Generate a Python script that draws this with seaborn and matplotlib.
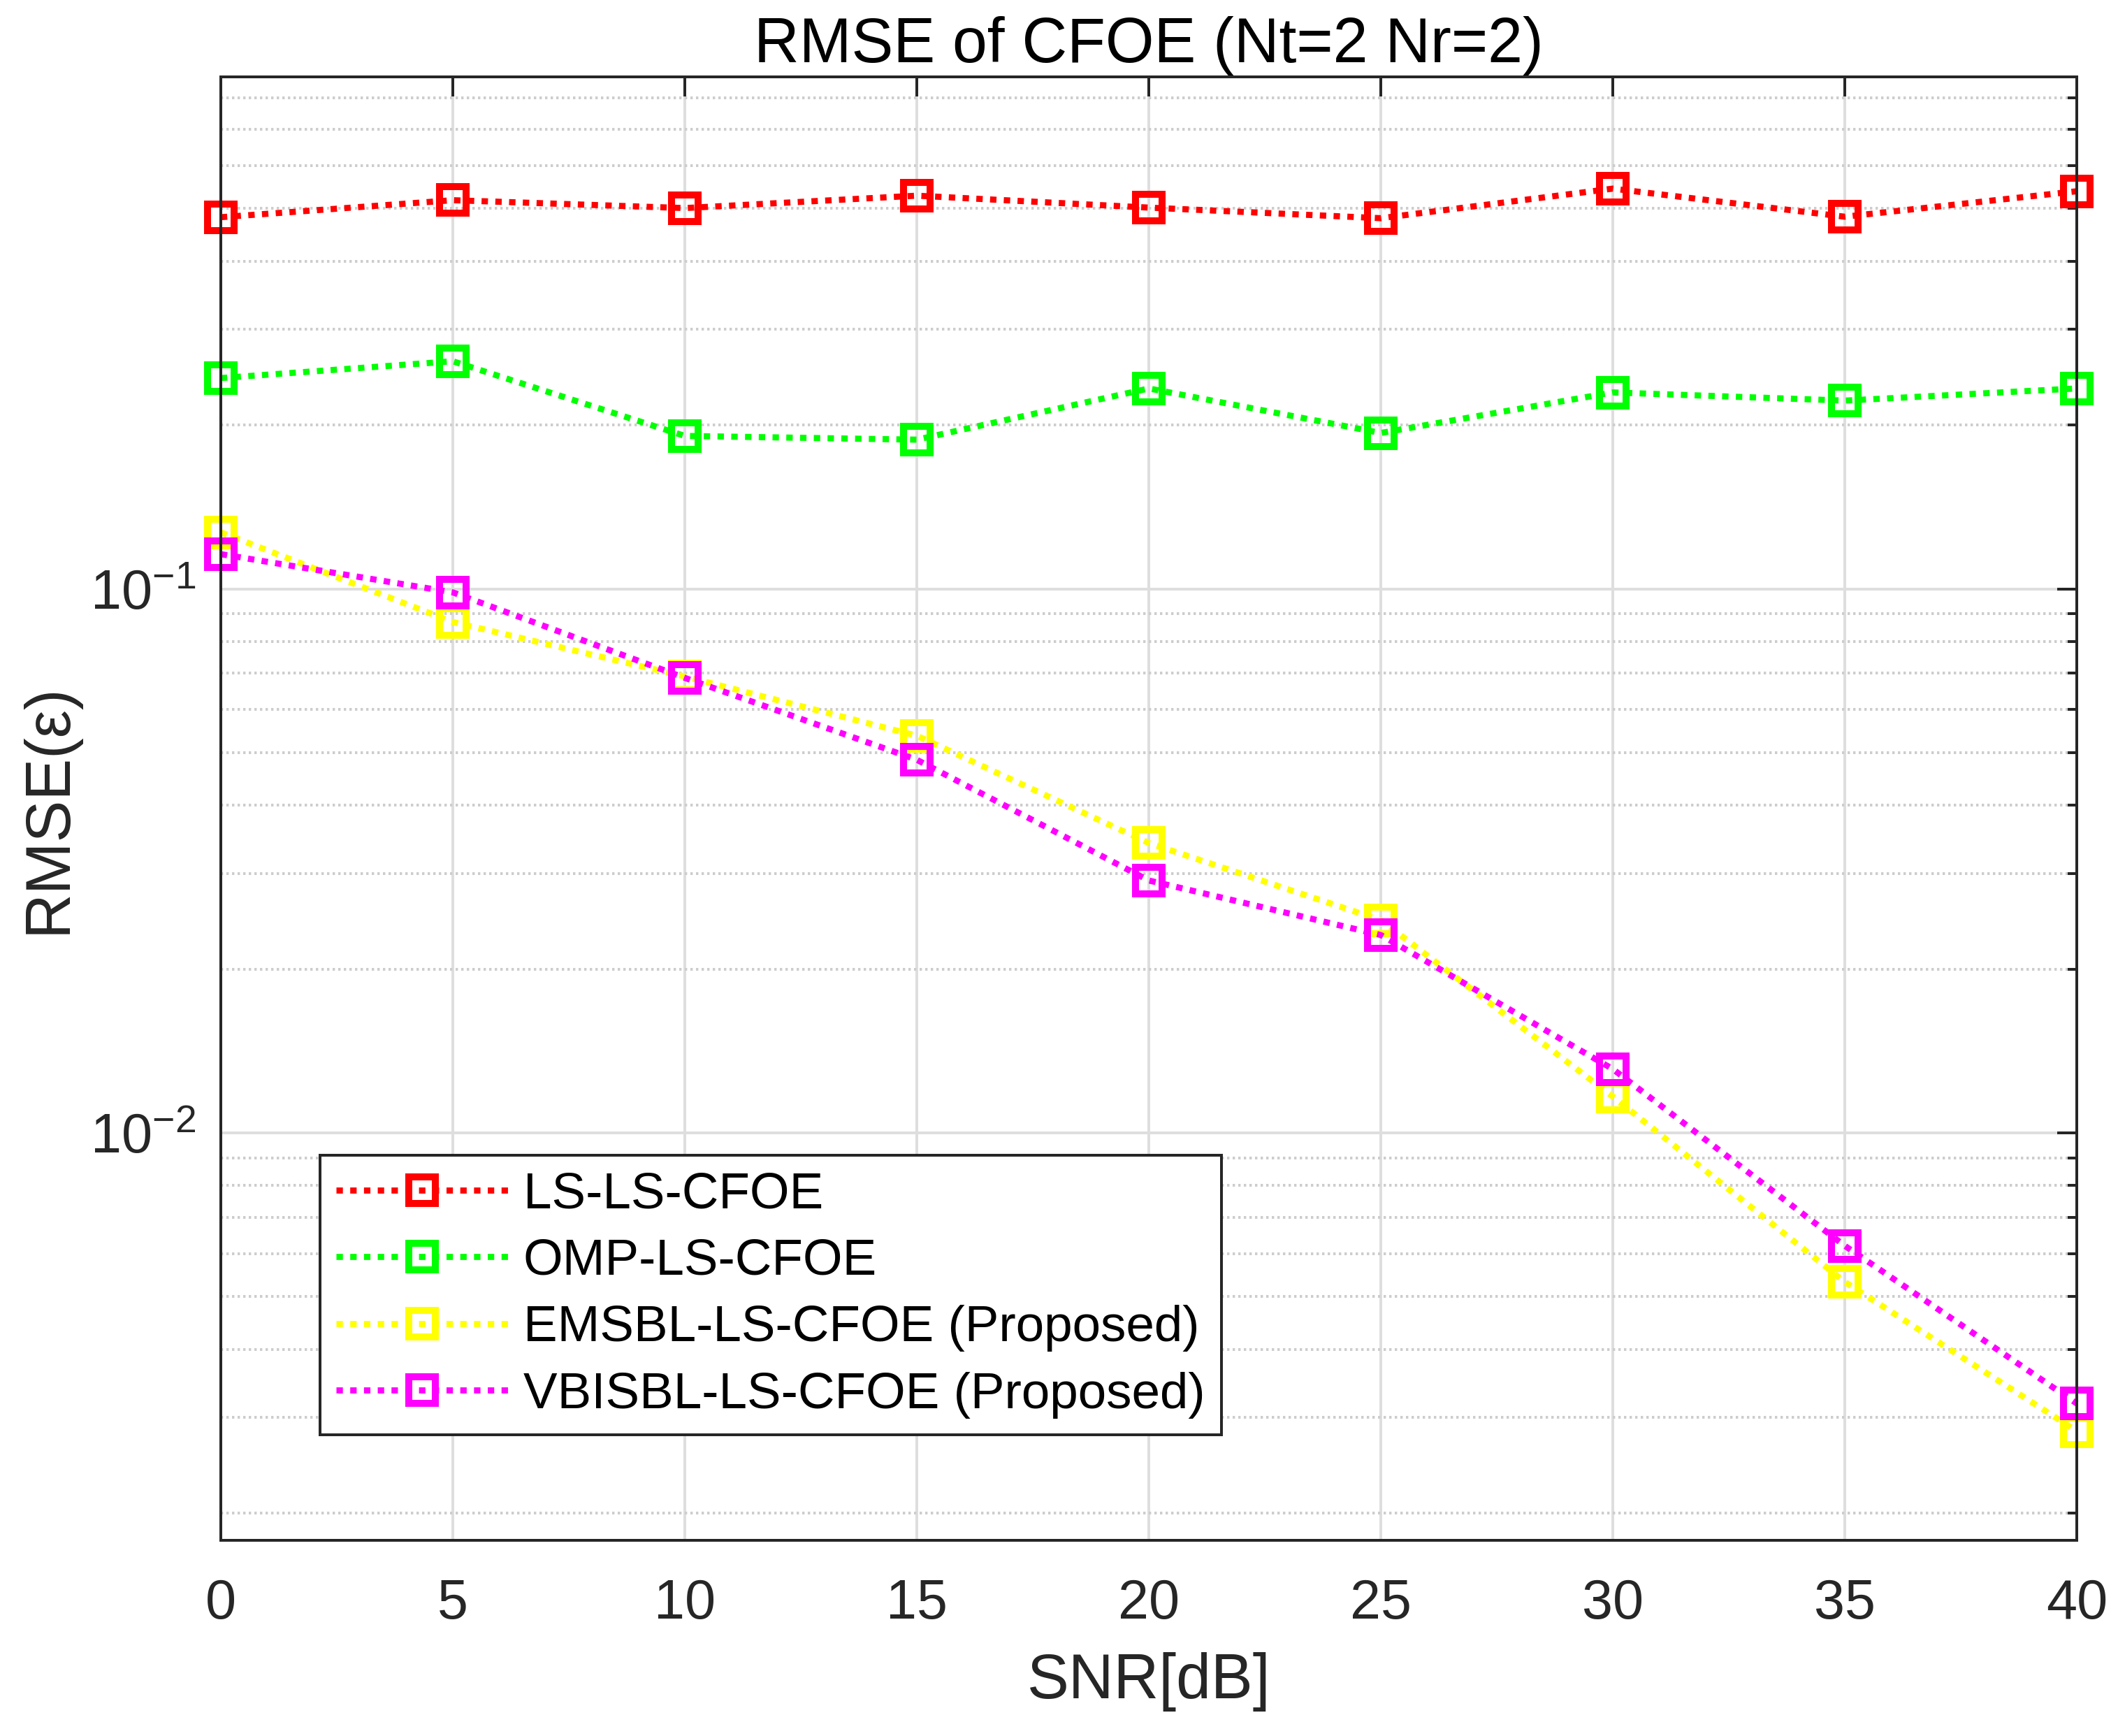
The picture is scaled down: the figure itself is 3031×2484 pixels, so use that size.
import numpy as np
import pandas as pd
import matplotlib
matplotlib.use("Agg")
import matplotlib.pyplot as plt
import seaborn as sns
from matplotlib.ticker import LogLocator, NullFormatter, FixedLocator

# ---- data ----
snr = [0, 5, 10, 15, 20, 25, 30, 35, 40]
methods = ["LS-LS-CFOE", "OMP-LS-CFOE", "EMSBL-LS-CFOE (Proposed)", "VBISBL-LS-CFOE (Proposed)"]
rmse_ls = [0.482, 0.518, 0.501, 0.528, 0.502, 0.480, 0.544, 0.483, 0.538]
rmse_omp = [0.244, 0.262, 0.191, 0.188, 0.2335, 0.1934, 0.2296, 0.2218, 0.2335]
rmse_em = [0.1270, 0.0869, 0.0690, 0.0537, 0.0341, 0.0246, 0.01166, 0.00532, 0.00283]
rmse_vbi = [0.1158, 0.0985, 0.0686, 0.0485, 0.0291, 0.0231, 0.0131, 0.00620, 0.00318]
colors = ["#ff0000", "#00ff00", "#ffff00", "#ff00ff"]

df = pd.DataFrame({
    "snr": snr * 4,
    "rmse": rmse_ls + rmse_omp + rmse_em + rmse_vbi,
    "method": sum([[m] * len(snr) for m in methods], []),
})

sns.set_theme(style="white")
plt.rcParams["font.family"] = ["Liberation Sans", "DejaVu Sans"]
plt.rcParams["mathtext.fontset"] = "custom"
plt.rcParams["mathtext.rm"] = "Liberation Sans"
plt.rcParams["mathtext.it"] = "Liberation Sans"
plt.rcParams["mathtext.default"] = "regular"

W, H = 3031, 2484
fig = plt.figure(figsize=(W / 300, H / 300), dpi=300)
ax = fig.add_axes([316 / W, 1 - 2204 / H, (2972 - 316) / W, (2204 - 110) / H])

dark = "#262626"
for m, c in zip(methods, colors):
    sub = df[df["method"] == m]
    sns.lineplot(data=sub, x="snr", y="rmse", ax=ax, color=c, label=m,
                 marker="s", markersize=9.2, markerfacecolor="none",
                 markeredgecolor=c, markeredgewidth=2.4,
                 linewidth=2.1, linestyle=(0, (1.05, 1.2)),
                 dash_capstyle="butt", clip_on=False, zorder=3)

ax.set_yscale("log")
ax.set_xlim(0, 40)
ax.set_ylim(10 ** -2.749, 10 ** -0.059)
ax.xaxis.set_major_locator(FixedLocator(snr))
ax.yaxis.set_major_locator(LogLocator(base=10, numticks=10))
ax.yaxis.set_minor_locator(LogLocator(base=10, subs=np.arange(2, 10), numticks=50))
ax.yaxis.set_minor_formatter(NullFormatter())
ax.xaxis.set_minor_locator(FixedLocator([]))

ax.set_axisbelow(True)
ax.grid(which="major", axis="both", color="#dedede", linewidth=0.96, linestyle="-")
ax.yaxis.grid(which="minor", color="#cdcdcd", linewidth=0.96, linestyle=(0, (0.85, 1.15)))

for s in ax.spines.values():
    s.set_visible(True)
    s.set_color(dark)
    s.set_linewidth(0.96)
    s.set_zorder(4)

ax.tick_params(which="both", direction="in", top=True, right=True,
               color=dark, width=0.96, labelcolor=dark, labelsize=19)
ax.tick_params(which="major", length=6.7)
ax.tick_params(which="minor", length=3.2)
ax.tick_params(axis="x", which="major", pad=13)
ax.tick_params(axis="y", which="major", pad=8.5)

ax.set_xlabel("SNR[dB]", fontsize=21.5, color=dark, labelpad=7.5)
ax.set_ylabel("RMSE(ε)", fontsize=21.5, color=dark, labelpad=4)
ax.set_title("RMSE of CFOE (Nt=2 Nr=2)", fontsize=21.5, color="black", pad=5)

leg = ax.legend(loc="upper left", bbox_to_anchor=(142 / 2656, (2204 - 1653) / 2094),
                borderaxespad=0, fontsize=17.5, handlelength=3.37, handletextpad=0.3,
                labelspacing=0.39, borderpad=0.32, fancybox=False, framealpha=1,
                edgecolor=dark, facecolor="white", numpoints=1)
leg.get_frame().set_linewidth(0.96)
for t in leg.get_texts():
    t.set_color("black")

fig.savefig("out.png", dpi=300)
